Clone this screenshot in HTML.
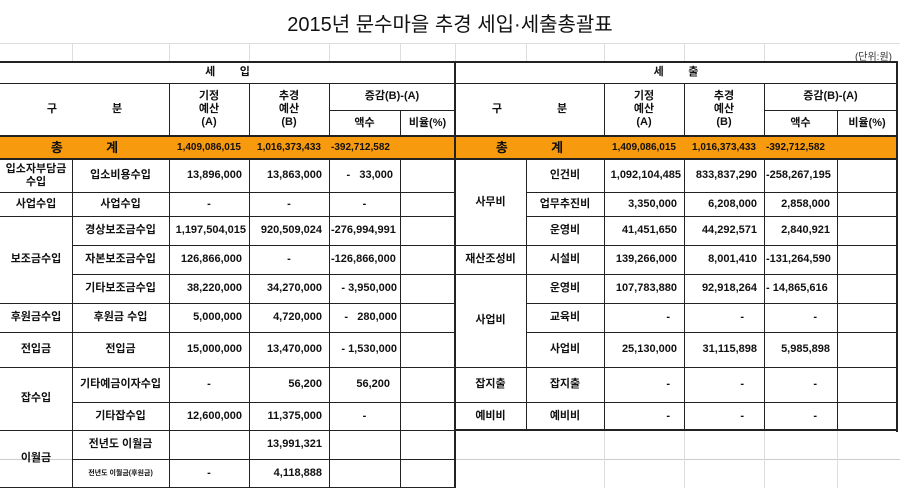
<!DOCTYPE html>
<html><head><meta charset="utf-8"><style>
body{margin:0;width:900px;height:488px;overflow:hidden;background:#fff;position:relative;font-family:"Liberation Sans","Noto Sans CJK KR","NanumGothic",sans-serif;}
.c{position:absolute;box-sizing:border-box;border-right:1px solid #222;border-bottom:1px solid #222;display:flex;align-items:center;justify-content:center;text-align:center;font-size:11px;font-weight:bold;color:#111;line-height:13px;white-space:nowrap}
.r{justify-content:flex-end;padding-right:7px}
.l{justify-content:flex-start;padding-left:2px}
.o{background:#F79A0E}
.g{position:absolute;background:#ddd}
.k{position:absolute;background:#222}
</style></head><body>
<div class="g" style="left:0;top:43px;width:900px;height:1px"></div>
<div class="g" style="left:0;top:459px;width:900px;height:1px;background:#ccc"></div>
<div class="g" style="left:604px;top:430px;width:1px;height:58px"></div>
<div class="g" style="left:684px;top:430px;width:1px;height:58px"></div>
<div class="g" style="left:764px;top:430px;width:1px;height:58px"></div>
<div class="g" style="left:837px;top:430px;width:1px;height:58px"></div>
<div class="g" style="left:72px;top:43px;width:1px;height:19px"></div>
<div class="g" style="left:169px;top:43px;width:1px;height:19px"></div>
<div class="g" style="left:249px;top:43px;width:1px;height:19px"></div>
<div class="g" style="left:329px;top:43px;width:1px;height:19px"></div>
<div class="g" style="left:400px;top:43px;width:1px;height:19px"></div>
<div class="g" style="left:455px;top:43px;width:1px;height:19px"></div>
<div class="g" style="left:526px;top:43px;width:1px;height:19px"></div>
<div class="g" style="left:604px;top:43px;width:1px;height:19px"></div>
<div class="g" style="left:684px;top:43px;width:1px;height:19px"></div>
<div class="g" style="left:764px;top:43px;width:1px;height:19px"></div>
<div style="position:absolute;left:0;top:8px;width:900px;text-align:center;font-size:20px;color:#111">2015년 문수마을 추경 세입·세출총괄표</div>
<div style="position:absolute;right:8px;top:48px;font-size:10px;color:#333">(단위:원)</div>

<!-- LEFT -->
<div class="c" style="left:0;top:62px;width:456px;height:22px">세&nbsp;&nbsp;&nbsp;&nbsp;&nbsp;&nbsp;&nbsp;&nbsp;입</div>
<div class="c" style="left:0;top:83px;width:170px;height:54px">구&nbsp;&nbsp;&nbsp;&nbsp;&nbsp;&nbsp;&nbsp;&nbsp;&nbsp;&nbsp;&nbsp;&nbsp;&nbsp;&nbsp;&nbsp;&nbsp;&nbsp;&nbsp;분</div>
<div class="c" style="left:169px;top:83px;width:81px;height:54px">기정<br>예산<br>(A)</div>
<div class="c" style="left:249px;top:83px;width:81px;height:54px">추경<br>예산<br>(B)</div>
<div class="c" style="left:329px;top:83px;width:127px;height:28px">증감(B)-(A)</div>
<div class="c" style="left:329px;top:110px;width:72px;height:27px">액수</div>
<div class="c" style="left:400px;top:110px;width:56px;height:27px">비율(%)</div>
<div class="c o" style="left:0;top:136px;width:170px;height:24px;font-size:13px">총&nbsp;&nbsp;&nbsp;&nbsp;&nbsp;&nbsp;&nbsp;&nbsp;&nbsp;&nbsp;&nbsp;&nbsp;계</div>
<div class="c o" style="left:169px;top:136px;width:81px;height:24px;font-size:10px">1,409,086,015</div>
<div class="c o" style="left:249px;top:136px;width:81px;height:24px;font-size:10px">1,016,373,433</div>
<div class="c o l" style="left:329px;top:136px;width:72px;height:24px;font-size:10px">-392,712,582</div>
<div class="c o" style="left:400px;top:136px;width:56px;height:24px"></div>

<div class="c" style="left:0;top:159px;width:73px;height:34px">입소자부담금<br>수입</div>
<div class="c" style="left:0;top:192px;width:73px;height:25px">사업수입</div>
<div class="c" style="left:0;top:216px;width:73px;height:88px">보조금수입</div>
<div class="c" style="left:0;top:303px;width:73px;height:30px">후원금수입</div>
<div class="c" style="left:0;top:332px;width:73px;height:36px">전입금</div>
<div class="c" style="left:0;top:367px;width:73px;height:64px">잡수입</div>
<div class="c" style="left:0;top:430px;width:73px;height:58px">이월금</div>

<div class="c" style="left:72px;top:159px;width:98px;height:34px">입소비용수입</div>
<div class="c" style="left:72px;top:192px;width:98px;height:25px">사업수입</div>
<div class="c" style="left:72px;top:216px;width:98px;height:30px">경상보조금수입</div>
<div class="c" style="left:72px;top:245px;width:98px;height:30px">자본보조금수입</div>
<div class="c" style="left:72px;top:274px;width:98px;height:30px">기타보조금수입</div>
<div class="c" style="left:72px;top:303px;width:98px;height:30px">후원금 수입</div>
<div class="c" style="left:72px;top:332px;width:98px;height:36px">전입금</div>
<div class="c" style="left:72px;top:367px;width:98px;height:36px">기타예금이자수입</div>
<div class="c" style="left:72px;top:402px;width:98px;height:29px">기타잡수입</div>
<div class="c" style="left:72px;top:430px;width:98px;height:30px">전년도 이월금</div>
<div class="c" style="left:72px;top:459px;width:98px;height:29px;font-size:7px">전년도 이월금(후원금)</div>

<div class="c r" style="left:169px;top:159px;width:81px;height:34px">13,896,000</div>
<div class="c" style="left:169px;top:192px;width:81px;height:25px">-</div>
<div class="c r" style="left:169px;top:216px;width:81px;height:30px;padding-right:3px">1,197,504,015</div>
<div class="c r" style="left:169px;top:245px;width:81px;height:30px">126,866,000</div>
<div class="c r" style="left:169px;top:274px;width:81px;height:30px">38,220,000</div>
<div class="c r" style="left:169px;top:303px;width:81px;height:30px">5,000,000</div>
<div class="c r" style="left:169px;top:332px;width:81px;height:36px">15,000,000</div>
<div class="c" style="left:169px;top:367px;width:81px;height:36px">-</div>
<div class="c r" style="left:169px;top:402px;width:81px;height:29px">12,600,000</div>
<div class="c r" style="left:169px;top:430px;width:81px;height:30px"></div>
<div class="c" style="left:169px;top:459px;width:81px;height:29px">-</div>

<div class="c r" style="left:249px;top:159px;width:81px;height:34px">13,863,000</div>
<div class="c" style="left:249px;top:192px;width:81px;height:25px">-</div>
<div class="c r" style="left:249px;top:216px;width:81px;height:30px">920,509,024</div>
<div class="c" style="left:249px;top:245px;width:81px;height:30px">-</div>
<div class="c r" style="left:249px;top:274px;width:81px;height:30px">34,270,000</div>
<div class="c r" style="left:249px;top:303px;width:81px;height:30px">4,720,000</div>
<div class="c r" style="left:249px;top:332px;width:81px;height:36px">13,470,000</div>
<div class="c r" style="left:249px;top:367px;width:81px;height:36px">56,200</div>
<div class="c r" style="left:249px;top:402px;width:81px;height:29px">11,375,000</div>
<div class="c r" style="left:249px;top:430px;width:81px;height:30px">13,991,321</div>
<div class="c r" style="left:249px;top:459px;width:81px;height:29px">4,118,888</div>

<div class="c r" style="left:329px;top:159px;width:72px;height:34px">-&nbsp;&nbsp;&nbsp;33,000</div>
<div class="c" style="left:329px;top:192px;width:72px;height:25px">-</div>
<div class="c l" style="left:329px;top:216px;width:72px;height:30px">-276,994,991</div>
<div class="c l" style="left:329px;top:245px;width:72px;height:30px">-126,866,000</div>
<div class="c r" style="left:329px;top:274px;width:72px;height:30px;padding-right:3px">- 3,950,000</div>
<div class="c r" style="left:329px;top:303px;width:72px;height:30px;padding-right:3px">-&nbsp;&nbsp;&nbsp;280,000</div>
<div class="c r" style="left:329px;top:332px;width:72px;height:36px;padding-right:3px">- 1,530,000</div>
<div class="c r" style="left:329px;top:367px;width:72px;height:36px;padding-right:10px">56,200</div>
<div class="c" style="left:329px;top:402px;width:72px;height:29px">-</div>
<div class="c" style="left:329px;top:430px;width:72px;height:30px"></div>
<div class="c" style="left:329px;top:459px;width:72px;height:29px"></div>

<div class="c" style="left:400px;top:159px;width:56px;height:34px"></div>
<div class="c" style="left:400px;top:192px;width:56px;height:25px"></div>
<div class="c" style="left:400px;top:216px;width:56px;height:30px"></div>
<div class="c" style="left:400px;top:245px;width:56px;height:30px"></div>
<div class="c" style="left:400px;top:274px;width:56px;height:30px"></div>
<div class="c" style="left:400px;top:303px;width:56px;height:30px"></div>
<div class="c" style="left:400px;top:332px;width:56px;height:36px"></div>
<div class="c" style="left:400px;top:367px;width:56px;height:36px"></div>
<div class="c" style="left:400px;top:402px;width:56px;height:29px"></div>
<div class="c" style="left:400px;top:430px;width:56px;height:30px"></div>
<div class="c" style="left:400px;top:459px;width:56px;height:29px"></div>

<!-- RIGHT -->
<div class="c" style="left:455px;top:62px;width:443px;height:22px">세&nbsp;&nbsp;&nbsp;&nbsp;&nbsp;&nbsp;&nbsp;&nbsp;출</div>
<div class="c" style="left:455px;top:83px;width:150px;height:54px">구&nbsp;&nbsp;&nbsp;&nbsp;&nbsp;&nbsp;&nbsp;&nbsp;&nbsp;&nbsp;&nbsp;&nbsp;&nbsp;&nbsp;&nbsp;&nbsp;&nbsp;&nbsp;분</div>
<div class="c" style="left:604px;top:83px;width:81px;height:54px">기정<br>예산<br>(A)</div>
<div class="c" style="left:684px;top:83px;width:81px;height:54px">추경<br>예산<br>(B)</div>
<div class="c" style="left:764px;top:83px;width:134px;height:28px">증감(B)-(A)</div>
<div class="c" style="left:764px;top:110px;width:74px;height:27px">액수</div>
<div class="c" style="left:837px;top:110px;width:61px;height:27px">비율(%)</div>
<div class="c o" style="left:455px;top:136px;width:150px;height:24px;font-size:13px">총&nbsp;&nbsp;&nbsp;&nbsp;&nbsp;&nbsp;&nbsp;&nbsp;&nbsp;&nbsp;&nbsp;&nbsp;계</div>
<div class="c o" style="left:604px;top:136px;width:81px;height:24px;font-size:10px">1,409,086,015</div>
<div class="c o" style="left:684px;top:136px;width:81px;height:24px;font-size:10px">1,016,373,433</div>
<div class="c o l" style="left:764px;top:136px;width:74px;height:24px;font-size:10px">-392,712,582</div>
<div class="c o" style="left:837px;top:136px;width:61px;height:24px"></div>

<div class="c" style="left:455px;top:159px;width:72px;height:87px">사무비</div>
<div class="c" style="left:455px;top:245px;width:72px;height:30px">재산조성비</div>
<div class="c" style="left:455px;top:274px;width:72px;height:94px">사업비</div>
<div class="c" style="left:455px;top:367px;width:72px;height:36px">잡지출</div>
<div class="c" style="left:455px;top:402px;width:72px;height:29px">예비비</div>

<div class="c" style="left:526px;top:159px;width:79px;height:34px">인건비</div>
<div class="c" style="left:526px;top:192px;width:79px;height:25px">업무추진비</div>
<div class="c" style="left:526px;top:216px;width:79px;height:30px">운영비</div>
<div class="c" style="left:526px;top:245px;width:79px;height:30px">시설비</div>
<div class="c" style="left:526px;top:274px;width:79px;height:30px">운영비</div>
<div class="c" style="left:526px;top:303px;width:79px;height:30px">교육비</div>
<div class="c" style="left:526px;top:332px;width:79px;height:36px">사업비</div>
<div class="c" style="left:526px;top:367px;width:79px;height:36px">잡지출</div>
<div class="c" style="left:526px;top:402px;width:79px;height:29px">예비비</div>

<div class="c r" style="left:604px;top:159px;width:81px;height:34px;padding-right:3px">1,092,104,485</div>
<div class="c r" style="left:604px;top:192px;width:81px;height:25px">3,350,000</div>
<div class="c r" style="left:604px;top:216px;width:81px;height:30px">41,451,650</div>
<div class="c r" style="left:604px;top:245px;width:81px;height:30px">139,266,000</div>
<div class="c r" style="left:604px;top:274px;width:81px;height:30px">107,783,880</div>
<div class="c r" style="left:604px;top:303px;width:81px;height:30px;padding-right:14px">-</div>
<div class="c r" style="left:604px;top:332px;width:81px;height:36px">25,130,000</div>
<div class="c r" style="left:604px;top:367px;width:81px;height:36px;padding-right:14px">-</div>
<div class="c r" style="left:604px;top:402px;width:81px;height:29px;padding-right:14px">-</div>

<div class="c r" style="left:684px;top:159px;width:81px;height:34px">833,837,290</div>
<div class="c r" style="left:684px;top:192px;width:81px;height:25px">6,208,000</div>
<div class="c r" style="left:684px;top:216px;width:81px;height:30px">44,292,571</div>
<div class="c r" style="left:684px;top:245px;width:81px;height:30px">8,001,410</div>
<div class="c r" style="left:684px;top:274px;width:81px;height:30px">92,918,264</div>
<div class="c r" style="left:684px;top:303px;width:81px;height:30px;padding-right:20px">-</div>
<div class="c r" style="left:684px;top:332px;width:81px;height:36px">31,115,898</div>
<div class="c r" style="left:684px;top:367px;width:81px;height:36px;padding-right:20px">-</div>
<div class="c r" style="left:684px;top:402px;width:81px;height:29px;padding-right:20px">-</div>

<div class="c l" style="left:764px;top:159px;width:74px;height:34px">-258,267,195</div>
<div class="c r" style="left:764px;top:192px;width:74px;height:25px">2,858,000</div>
<div class="c r" style="left:764px;top:216px;width:74px;height:30px">2,840,921</div>
<div class="c l" style="left:764px;top:245px;width:74px;height:30px">-131,264,590</div>
<div class="c l" style="left:764px;top:274px;width:74px;height:30px">- 14,865,616</div>
<div class="c r" style="left:764px;top:303px;width:74px;height:30px;padding-right:20px">-</div>
<div class="c r" style="left:764px;top:332px;width:74px;height:36px">5,985,898</div>
<div class="c r" style="left:764px;top:367px;width:74px;height:36px;padding-right:20px">-</div>
<div class="c r" style="left:764px;top:402px;width:74px;height:29px;padding-right:20px">-</div>

<div class="c" style="left:837px;top:159px;width:61px;height:34px"></div>
<div class="c" style="left:837px;top:192px;width:61px;height:25px"></div>
<div class="c" style="left:837px;top:216px;width:61px;height:30px"></div>
<div class="c" style="left:837px;top:245px;width:61px;height:30px"></div>
<div class="c" style="left:837px;top:274px;width:61px;height:30px"></div>
<div class="c" style="left:837px;top:303px;width:61px;height:30px"></div>
<div class="c" style="left:837px;top:332px;width:61px;height:36px"></div>
<div class="c" style="left:837px;top:367px;width:61px;height:36px"></div>
<div class="c" style="left:837px;top:402px;width:61px;height:29px"></div>

<!-- thick borders -->
<div class="k" style="left:0;top:61px;width:898px;height:2px"></div>
<div class="k" style="left:454px;top:61px;width:2px;height:427px"></div>
<div class="k" style="left:896px;top:61px;width:2px;height:371px"></div>
<div class="k" style="left:455px;top:429px;width:443px;height:2px"></div>
<div class="k" style="left:0;top:135px;width:898px;height:2px"></div>
<div class="k" style="left:0;top:158px;width:898px;height:2px"></div>
</body></html>
